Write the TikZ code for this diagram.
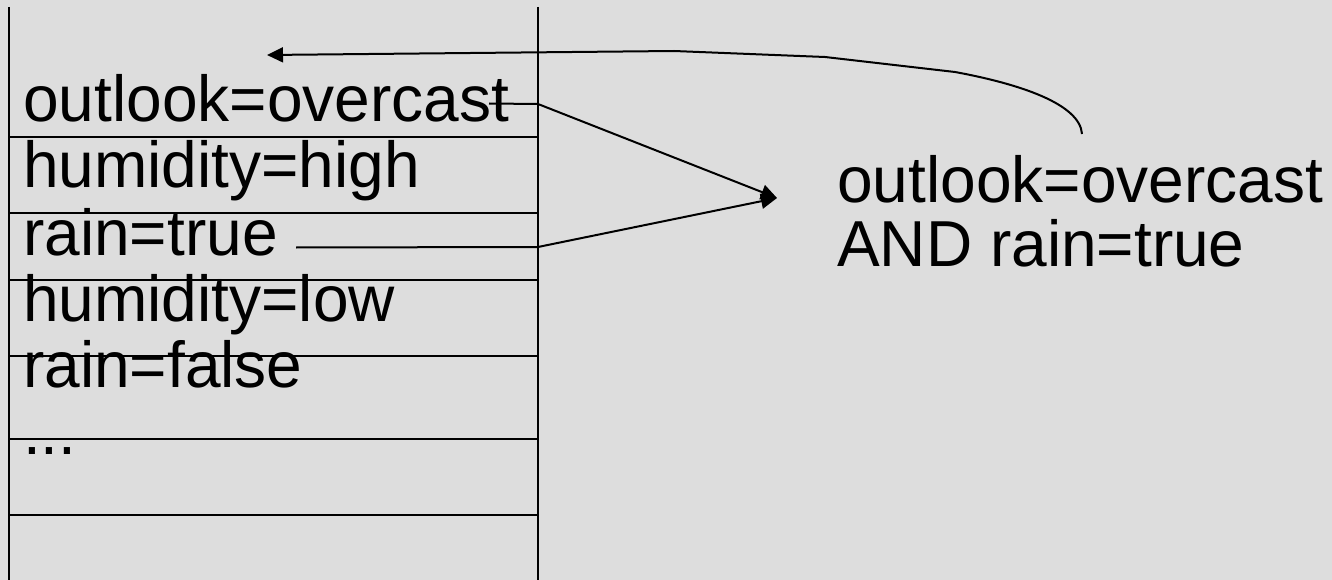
\documentclass[tikz,border=0pt]{standalone}
\usepackage{fontspec}
\setmainfont{Liberation Sans}[FakeStretch=0.985]
\usetikzlibrary{arrows.meta}
\definecolor{bg}{RGB}{221,221,221}
\tikzset{
  rule/.style={line width=2pt, black},
  conn/.style={line width=2pt, black, -{Triangle[length=16pt,width=15pt]}},
  lbl/.style={anchor=base west, inner sep=0pt, font=\fontsize{65}{65}\selectfont},
}
\begin{document}
\begin{tikzpicture}[x=1pt,y=-1pt]
\fill[bg] (0,0) rectangle (1332,580);
\useasboundingbox (0,0) rectangle (1332,580);
% table
\draw[rule] (9,7) -- (9,580);
\draw[rule] (538,7) -- (538,580);
\foreach \yy in {137,212.5,280,356,439,515}
  \draw[rule] (9,\yy) -- (538,\yy);
% left texts
\node[lbl] (t1) at (23,122) {outlook=overcast};
\node[lbl] (t2) at (23,188) {humidity=high};
\node[lbl] (t3) at (23,255) {rain=true};
\node[lbl] (t4) at (23,321) {humidity=low};
\node[lbl] (t5) at (23,387) {rain=false};
\node[lbl] (t6) at (23,454) {...};
% right rule
\node[lbl] (r1) at (837,202.5) {outlook=overcast};
\node[lbl] (r2) at (837,266.5) {AND rain=true};
% connector anchors
\coordinate (s1) at (489,103.5);
\coordinate (s3) at (296,247.5);
\coordinate (tip) at (777,198);
\coordinate (cstart) at (1082,134);
\coordinate (ctip) at (267,55);
\draw[conn] (s1) -- (538,104) -- (tip);
\draw[conn] (s3) -- (538,247) -- (tip);
\draw[conn] (cstart) .. controls (1080,104) and (1020,84) .. (955,72)
  -- (825,57) -- (674,51) -- (ctip);
\end{tikzpicture}
\end{document}
